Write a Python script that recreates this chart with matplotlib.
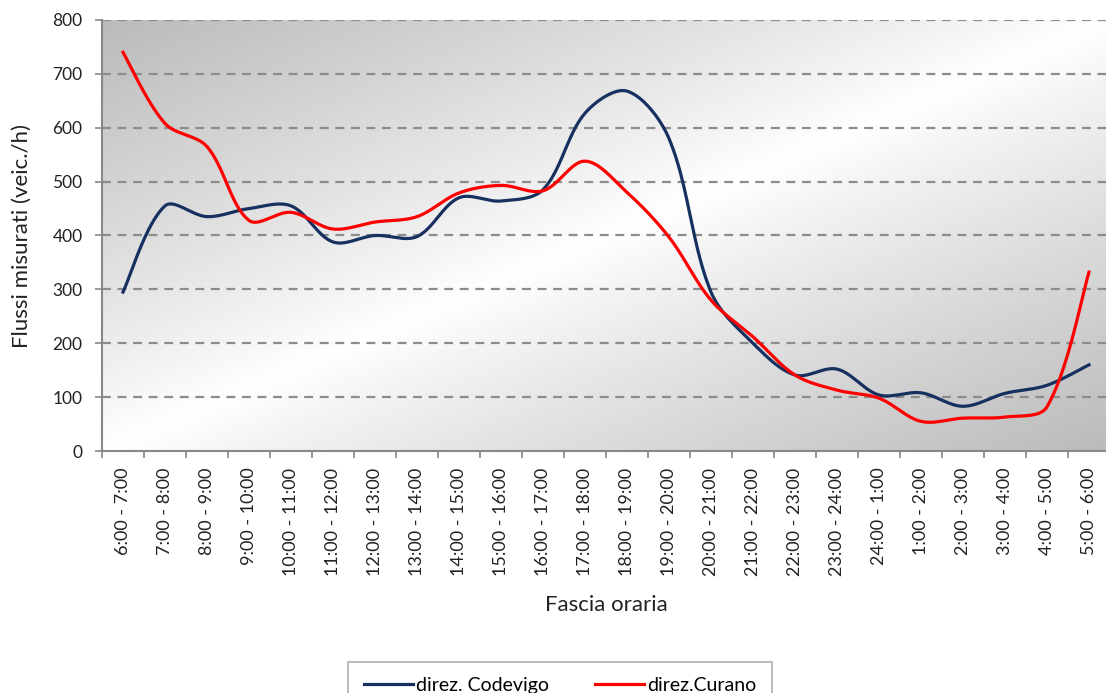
import numpy as np
import matplotlib
matplotlib.use("Agg")
import matplotlib.pyplot as plt

plt.rcParams['font.family'] = ['Lato', 'DejaVu Sans']

fasce = ["6:00 - 7:00", "7:00 - 8:00", "8:00 - 9:00", "9:00 - 10:00", "10:00 - 11:00",
         "11:00 - 12:00", "12:00 - 13:00", "13:00 - 14:00", "14:00 - 15:00", "15:00 - 16:00",
         "16:00 - 17:00", "17:00 - 18:00", "18:00 - 19:00", "19:00 - 20:00", "20:00 - 21:00",
         "21:00 - 22:00", "22:00 - 23:00", "23:00 - 24:00", "24:00 - 1:00", "1:00 - 2:00",
         "2:00 - 3:00", "3:00 - 4:00", "4:00 - 5:00", "5:00 - 6:00"]
codevigo = [295, 455, 435, 450, 455, 388, 400, 398, 470, 464, 485, 627, 668, 580, 295,
            200, 141, 152, 104, 108, 83, 107, 122, 160]
curano = [740, 608, 565, 428, 443, 412, 425, 435, 479, 493, 483, 538, 480, 397, 280,
          212, 141, 113, 98, 55, 61, 63, 82, 332]

# scala in pixel per la smussatura (42 px per categoria, 0.539 px per unita)
SX, SY = 42.0, 0.539


def smooth(y, n=40):
    # curva smussata tipo Excel: Bezier con tangenti pesate sulle corde
    P = np.column_stack([np.arange(len(y)) * SX, np.asarray(y, float) * SY])
    m = len(P)
    cout = np.zeros_like(P)
    cin = np.zeros_like(P)
    for i in range(m):
        a = P[max(i - 1, 0)]
        b = P[min(i + 1, m - 1)]
        dp = np.linalg.norm(P[i] - a)
        dn = np.linalg.norm(b - P[i])
        T = b - a
        if dp == 0 or dn == 0:
            cout[i] = P[i] + T / 6
            cin[i] = P[i] - T / 6
        else:
            cout[i] = P[i] + T * dn / (dp + dn) / 3
            cin[i] = P[i] - T * dp / (dp + dn) / 3
    t = np.linspace(0, 1, n)[:, None]
    seg = []
    for i in range(m - 1):
        p0, p1, p2, p3 = P[i], cout[i], cin[i + 1], P[i + 1]
        seg.append((1 - t) ** 3 * p0 + 3 * (1 - t) ** 2 * t * p1 + 3 * (1 - t) * t ** 2 * p2 + t ** 3 * p3)
    c = np.vstack(seg)
    return c[:, 0] / SX, c[:, 1] / SY


fig = plt.figure(figsize=(11.06, 6.93), dpi=100)
ax = fig.add_axes([102 / 1106, 1 - 451 / 693, 1008 / 1106, 431 / 693])

# sfondo sfumato diagonale (grigio agli angoli, bianco al centro)
u, v = np.meshgrid(np.linspace(0, 1, 300), np.linspace(0, 1, 300))
t = (u + v) / 2
c = 1 - 0.27 * np.abs(2 * t - 1) ** 0.9
ax.imshow(c, cmap='gray', vmin=0, vmax=1, extent=[-0.5, len(fasce) - 0.5, 0, 800],
          origin='upper', aspect='auto', zorder=0, interpolation='bilinear')

x = np.arange(len(fasce))
xs, ys = smooth(codevigo)
ax.plot(xs, ys, color='#16305f', lw=2.3, label='direz. Codevigo', zorder=3)
xs, ys = smooth(curano)
ax.plot(xs, ys, color='#ff0000', lw=2.3, label='direz.Curano', zorder=3)

ax.set_xlim(-0.5, len(fasce) - 0.5)
ax.set_ylim(0, 800)
ax.set_yticks(range(0, 801, 100))
for yv in range(100, 801, 100):
    ax.axhline(yv, color='#8c8c8c', lw=1.6, ls=(0, (4, 3)), zorder=1)

ax.set_xticks(x)
ax.set_xticklabels(fasce, rotation=90, fontsize=13, color='#222222')
ax.set_xticks(np.arange(-0.5, len(fasce), 1), minor=True)
ax.tick_params(axis='x', which='major', length=0, pad=12)
ax.tick_params(axis='x', which='minor', length=5, color='#888888', width=1.2)
ax.tick_params(axis='y', length=5, color='#888888', width=1.2, labelsize=12.5,
               labelcolor='#222222', pad=9)

for s in ['top', 'right']:
    ax.spines[s].set_visible(False)
for s in ['left', 'bottom']:
    ax.spines[s].set_color('#888888')
    ax.spines[s].set_linewidth(1.5)

fig.text(22 / 1106, 1 - 236 / 693, 'Flussi misurati (veic./h)', fontsize=16, color='#222222',
         ha='center', va='center', rotation=90)
fig.text(606 / 1106, 1 - 605 / 693, 'Fascia oraria', fontsize=16, color='#222222',
         ha='center', va='center')

leg = fig.legend(loc='upper center', bbox_to_anchor=(560 / 1106, 1 - 652 / 693), ncol=2,
                 fontsize=14, frameon=True, fancybox=False, edgecolor='#999999',
                 handlelength=2.5, handletextpad=0.15, columnspacing=2.4, borderpad=0.8)
leg.get_frame().set_linewidth(1.2)

fig.savefig('out.png', dpi=100)
